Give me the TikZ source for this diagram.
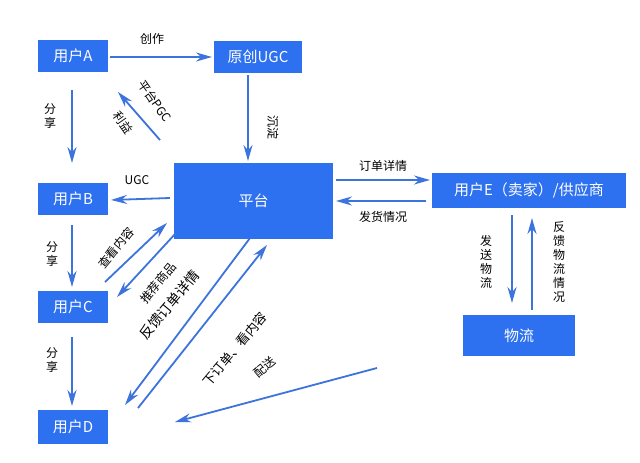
\documentclass[tikz,border=0pt]{standalone}
\usepackage{fontspec}
\setmainfont{Noto Sans CJK SC}
\usetikzlibrary{arrows.meta}
\begin{document}
\begin{tikzpicture}[x=1pt,y=-1pt,
  box/.style={fill=boxblue,text=white,inner sep=0pt,font=\fontsize{15}{17}\selectfont},
  arr/.style={draw=arrblue,line width=1.8pt,-{Stealth[length=16pt,width=9pt]}},
  lab/.style={font=\fontsize{12}{14}\selectfont,text=black,inner sep=1pt}]
\definecolor{boxblue}{RGB}{45,112,240}
\definecolor{arrblue}{RGB}{60,115,220}
\useasboundingbox (0,0) rectangle (640,463);
\fill[white] (0,0) rectangle (640,463);
\node[box,minimum width=70pt,minimum height=32pt] (A) at (73,56) {用户A};
\node[box,minimum width=88pt,minimum height=32pt] (U) at (258,57) {原创UGC};
\node[box,minimum width=159pt,minimum height=76pt] (P) at (253.5,201) {平台};
\node[box,minimum width=70pt,minimum height=32pt] (B) at (73,199) {用户B};
\node[box,minimum width=70pt,minimum height=32pt] (C) at (73,307) {用户C};
\node[box,minimum width=70pt,minimum height=34pt] (D) at (73,427) {用户D};
\node[box,minimum width=194pt,minimum height=35pt] (E) at (529,190.5) {用户E（卖家）/供应商};
\node[box,minimum width=112pt,minimum height=41pt] (L) at (519,335.5) {物流};
\coordinate (a1) at (110,57); \coordinate (a2) at (212,57);
\coordinate (g1) at (160,140); \coordinate (g2) at (118,92);
\coordinate (u1) at (248,75); \coordinate (u2) at (248,161);
\coordinate (ab1) at (72,90); \coordinate (ab2) at (72,163);
\coordinate (pb1) at (170,198); \coordinate (pb2) at (111,200);
\coordinate (bc1) at (72,225); \coordinate (bc2) at (72,287);
\coordinate (cd1) at (72,337); \coordinate (cd2) at (72,406);
\coordinate (pe1) at (336,180); \coordinate (pe2) at (430,180);
\coordinate (ep1) at (426,201); \coordinate (ep2) at (336,201);
\coordinate (el1) at (512,215); \coordinate (el2) at (512,303);
\coordinate (le1) at (532,310); \coordinate (le2) at (532,218);
\coordinate (c1) at (105,282); \coordinate (c2) at (167,223);
\coordinate (r1) at (176,233); \coordinate (r2) at (117,297);
\coordinate (f1) at (250,238); \coordinate (f2) at (125,405);
\coordinate (o1) at (138,408); \coordinate (o2) at (267,245);
\coordinate (s1) at (377,368); \coordinate (s2) at (175,422);
\draw[arr] (a1) -- (a2);
\draw[arr] (g1) -- (g2);
\draw[arr] (u1) -- (u2);
\draw[arr] (ab1) -- (ab2);
\draw[arr] (pb1) -- (pb2);
\draw[arr] (bc1) -- (bc2);
\draw[arr] (cd1) -- (cd2);
\draw[arr] (pe1) -- (pe2);
\draw[arr] (ep1) -- (ep2);
\draw[arr] (el1) -- (el2);
\draw[arr] (le1) -- (le2);
\draw[arr] (c1) -- (c2);
\draw[arr] (r1) -- (r2);
\draw[arr] (f1) -- (f2);
\draw[arr] (o1) -- (o2);
\draw[arr] (s1) -- (s2);
\node[lab] (t1) at (152,39) {创作};
\node[lab,rotate=-55] (t2) at (155,101) {平台PGC};
\node[lab,rotate=-55] (t3) at (123,123) {利益};
\node[lab,rotate=-90] (t4) at (273,127) {沉淀};
\node[lab,align=center] (t5) at (50,116) {分\\享};
\node[lab] (t6) at (137,180) {UGC};
\node[lab,align=center] (t7) at (52,254) {分\\享};
\node[lab,align=center] (t8) at (52,360) {分\\享};
\node[lab] (t9) at (383,166) {订单详情};
\node[lab] (t10) at (383,217) {发货情况};
\node[lab,align=center] (t11) at (486,262) {发\\送\\物\\流};
\node[lab,align=center] (t12) at (559,262) {反\\馈\\物\\流\\情\\况};
\node[lab,rotate=50] (t13) at (116,248) {查看内容};
\node[lab,rotate=50] (t14) at (158,283) {推荐商品};
\node[lab,rotate=50,font=\fontsize{14}{16}\selectfont] (t15) at (169,305) {反馈订单详情};
\node[lab,rotate=50,font=\fontsize{13}{15}\selectfont] (t16) at (235,349) {下订单、看内容};
\node[lab,rotate=40] (t17) at (265,367) {配送};
\end{tikzpicture}
\end{document}
